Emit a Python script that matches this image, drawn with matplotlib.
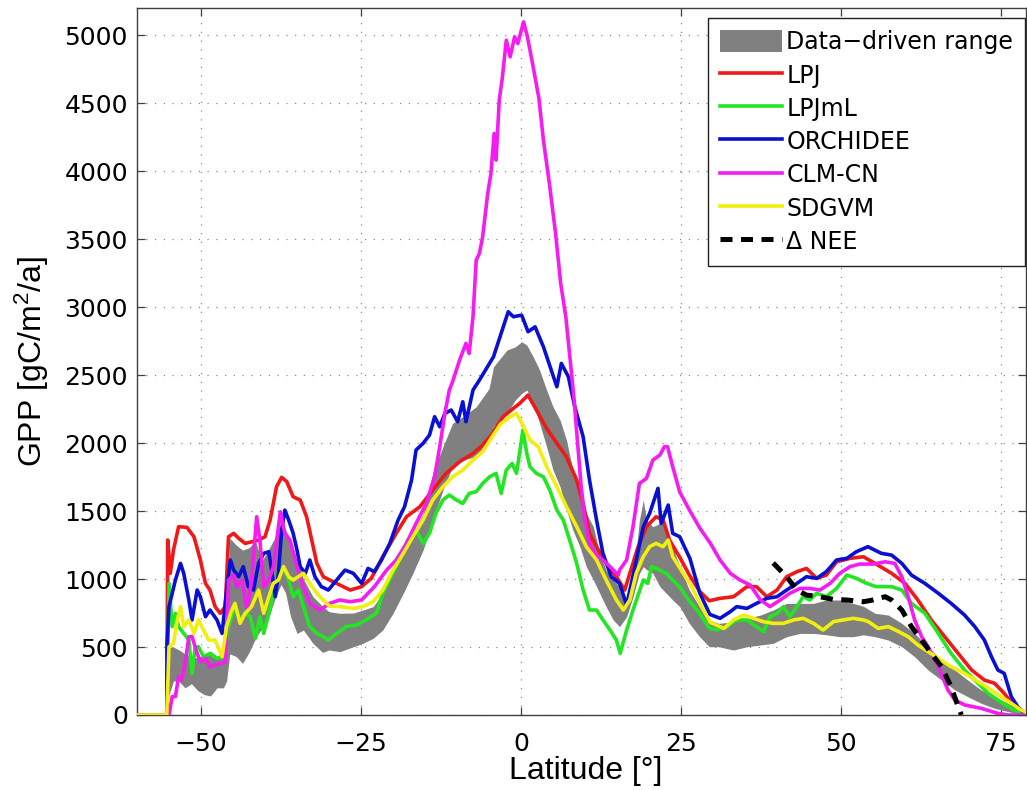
import matplotlib
matplotlib.use("Agg")
import matplotlib.pyplot as plt
from matplotlib.patches import Patch
from matplotlib.lines import Line2D
import numpy as np

plt.rcParams['font.family'] = ['Liberation Sans', 'DejaVu Sans']
plt.rcParams['mathtext.fontset'] = 'custom'
plt.rcParams['mathtext.rm'] = 'Liberation Sans'
plt.rcParams['mathtext.it'] = 'Liberation Sans:italic'

# ---------------- data (latitude, GPP) ----------------
lpj = [(-60, 0), (-55.35, 0), (-55.2, 1287), (-54.8, 1042), (-54.3, 1213), (-53.5, 1385), (-52.2, 1380),
       (-51.1, 1311), (-50.1, 1140), (-49.3, 968), (-48.6, 919), (-47.8, 797), (-47.0, 748), (-46.2, 797),
       (-45.7, 1311), (-44.9, 1336), (-44.1, 1299), (-43.1, 1262), (-42.1, 1274), (-41.0, 1287), (-40.0, 1311),
       (-39.2, 1434), (-38.2, 1679), (-37.4, 1748), (-36.6, 1716), (-35.6, 1605), (-34.5, 1581), (-33.5, 1458),
       (-32.7, 1287), (-31.9, 1115), (-30.9, 1017), (-29.9, 993), (-28.3, 956), (-26.7, 919), (-24.9, 944),
       (-23.4, 1005), (-21.6, 1164), (-19.5, 1336), (-17.9, 1458), (-15.8, 1532), (-13.8, 1654), (-11.7, 1777),
       (-9.6, 1863), (-7.5, 1924), (-6.0, 1985), (-4.6, 2060), (-2.8, 2194), (-1.2, 2255), (-0.2, 2292),
       (1.1, 2353), (2.4, 2243), (4.0, 2108), (5.6, 1998), (7.1, 1900), (8.7, 1728), (9.7, 1556), (10.7, 1336),
       (11.8, 1238), (13.3, 1115), (14.9, 1017), (16.2, 919), (17.0, 1042), (18.3, 1238), (19.6, 1385),
       (21.1, 1458), (22.2, 1434), (23.2, 1287), (24.8, 1160), (26.3, 1030), (27.9, 910), (29.4, 840),
       (31.1, 858), (33.2, 870), (35.3, 944), (36.8, 944), (38.4, 870), (40.0, 919), (41.5, 1017), (43.1, 1054),
       (44.6, 1078), (46.2, 1005), (47.7, 1029), (49.3, 1127), (51.4, 1152), (53.5, 1164), (55.3, 1115),
       (57.9, 1042), (60.0, 968), (62.0, 846), (64.1, 699), (66.2, 576), (68.3, 453), (70.4, 331), (72.4, 257),
       (74.0, 233), (75.5, 159), (77.1, 61), (78.7, 12)]

lpjml = [(-60, 0), (-55.35, 0), (-55.0, 968), (-54.5, 650), (-54.0, 748), (-53.5, 650), (-52.7, 600), (-51.9, 551),
         (-51.4, 306), (-50.9, 502), (-50.4, 502), (-49.6, 429), (-48.6, 453), (-47.5, 417), (-46.5, 429),
         (-45.7, 650), (-44.7, 797), (-43.9, 699), (-43.1, 748), (-42.3, 723), (-41.5, 564), (-40.8, 723),
         (-40.2, 600), (-39.4, 748), (-38.7, 895), (-37.9, 1042), (-37.1, 1091), (-36.3, 993), (-35.6, 870),
         (-34.8, 919), (-34.0, 797), (-33.0, 650), (-31.9, 600), (-30.9, 576), (-30.1, 551), (-28.8, 600),
         (-27.3, 650), (-25.7, 662), (-24.2, 699), (-22.6, 748), (-21.6, 895), (-20.3, 1017), (-19.0, 1140),
         (-17.7, 1287), (-16.4, 1360), (-15.3, 1262), (-14.3, 1336), (-13.3, 1483), (-12.2, 1581), (-11.2, 1618),
         (-10.1, 1581), (-9.1, 1556), (-8.1, 1630), (-7.0, 1642), (-6.0, 1703), (-4.9, 1752), (-3.9, 1777),
         (-3.1, 1630), (-2.3, 1801), (-1.4, 1850), (-0.7, 1777), (0.3, 2096), (0.9, 1924), (1.4, 1826),
         (2.4, 1777), (3.5, 1752), (4.5, 1654), (5.6, 1507), (6.6, 1434), (7.6, 1287), (8.7, 1115), (9.7, 919),
         (10.7, 772), (11.8, 772), (12.8, 699), (13.9, 625), (14.9, 551), (15.5, 453), (16.5, 625), (17.5, 772),
         (19.1, 993), (19.8, 968), (20.4, 1091), (21.7, 1066), (22.7, 1042), (23.7, 993), (24.8, 940),
         (26.3, 840), (27.9, 748), (29.4, 640), (30.6, 625), (32.2, 650), (33.7, 699), (35.3, 699), (36.8, 650),
         (37.9, 613), (38.9, 723), (40.0, 748), (41.0, 797), (42.0, 723), (43.1, 797), (44.1, 870), (45.1, 846),
         (46.2, 895), (47.7, 870), (49.3, 931), (50.9, 1029), (52.4, 1005), (54.0, 968), (55.5, 944), (57.9, 944),
         (59.5, 919), (61.0, 821), (63.1, 748), (65.2, 600), (67.2, 453), (69.3, 331), (71.4, 233), (73.0, 159),
         (74.5, 110), (76.1, 61), (77.6, 25), (78.7, 12)]

orchidee = [(-60, 0), (-55.35, 0), (-55.3, 527), (-55.0, 797), (-54.0, 993), (-53.2, 1115), (-52.7, 1042),
            (-51.9, 846), (-51.4, 699), (-50.6, 919), (-50.1, 870), (-49.3, 723), (-48.6, 772), (-47.5, 699),
            (-46.7, 600), (-46.0, 919), (-45.4, 1140), (-44.9, 1066), (-44.1, 1017), (-43.4, 1091), (-42.6, 944),
            (-41.8, 919), (-41.0, 1115), (-40.2, 1189), (-39.4, 1201), (-38.9, 1042), (-38.4, 870), (-37.9, 1042),
            (-37.4, 1360), (-36.9, 1507), (-36.3, 1434), (-35.6, 1336), (-35.0, 1213), (-34.5, 1091), (-33.7, 1042),
            (-33.0, 1140), (-32.2, 1017), (-31.2, 944), (-30.1, 919), (-28.8, 993), (-27.5, 1066), (-26.2, 1042),
            (-24.9, 968), (-23.9, 1078), (-22.9, 1054), (-21.8, 1140), (-20.5, 1262), (-19.2, 1434), (-18.2, 1532),
            (-17.1, 1728), (-16.4, 1949), (-15.3, 1998), (-14.3, 2059), (-13.5, 2194), (-12.7, 2120), (-11.9, 2218),
            (-10.9, 2243), (-9.9, 2157), (-9.1, 2304), (-8.6, 2157), (-7.5, 2390), (-6.5, 2463), (-4.3, 2635),
            (-2.0, 2966), (-1.2, 2929), (0.1, 2941), (1.1, 2819), (2.2, 2855), (3.5, 2708), (5.6, 2414),
            (6.3, 2586), (7.4, 2488), (8.4, 2267), (9.7, 2047), (10.7, 1728), (11.8, 1434), (12.8, 1189),
            (14.1, 1017), (15.4, 968), (16.5, 809), (17.8, 1091), (19.1, 1385), (20.1, 1483), (21.4, 1667),
            (21.9, 1409), (23.0, 1544), (23.7, 1336), (24.8, 1311), (26.4, 1150), (27.9, 900), (29.5, 740),
            (31.1, 711), (32.7, 760), (33.7, 797), (35.3, 784), (36.8, 821), (38.4, 858), (40.0, 870), (41.5, 919),
            (43.1, 968), (44.6, 1017), (46.2, 1005), (47.7, 1054), (49.3, 1140), (50.9, 1152), (52.4, 1201),
            (54.2, 1238), (56.3, 1189), (57.9, 1176), (59.5, 1115), (61.0, 1029), (63.1, 968), (65.2, 895),
            (67.2, 821), (69.3, 735), (70.9, 650), (72.4, 551), (73.5, 429), (74.5, 331), (75.5, 306), (76.6, 135),
            (77.6, 61), (78.7, 12)]

clmcn = [(-60, 0), (-55.0, 0), (-54.5, 135), (-54.0, 135), (-53.5, 282), (-53.0, 257), (-52.4, 404), (-51.9, 576),
         (-51.4, 576), (-50.6, 453), (-50.1, 392), (-49.3, 417), (-48.6, 355), (-47.8, 368), (-46.7, 380),
         (-46.2, 392), (-45.7, 993), (-44.9, 1029), (-44.4, 944), (-43.6, 993), (-42.8, 772), (-42.1, 993),
         (-41.3, 1458), (-40.8, 1287), (-40.2, 944), (-39.4, 993), (-38.7, 1091), (-37.6, 1495), (-36.9, 1336),
         (-36.1, 1287), (-35.0, 1091), (-34.0, 944), (-33.0, 821), (-31.4, 772), (-29.9, 821), (-28.3, 846),
         (-26.7, 833), (-24.9, 846), (-22.9, 944), (-21.0, 1066), (-19.5, 1140), (-17.9, 1262), (-16.4, 1409),
         (-14.8, 1556), (-13.5, 1752), (-12.7, 1973), (-11.9, 2218), (-11.2, 2390), (-10.7, 2450), (-9.6, 2610),
         (-8.6, 2733), (-8.1, 2659), (-7.5, 2929), (-7.0, 3346), (-6.5, 3395), (-6.0, 3517), (-5.2, 3836),
         (-4.7, 3983), (-4.2, 4277), (-3.9, 4081), (-3.4, 4522), (-2.9, 4694), (-2.3, 4963), (-1.7, 4841),
         (-1.0, 4988), (-0.5, 4939), (0.4, 5098), (1.0, 4988), (1.8, 4792), (2.8, 4535), (3.5, 4228),
         (4.4, 3920), (5.4, 3542), (6.2, 3174), (7.0, 2929), (7.6, 2650), (8.3, 2316), (8.9, 1973), (9.4, 1679),
         (10.0, 1434), (10.7, 1262), (11.5, 1189), (12.8, 1140), (13.9, 1091), (15.2, 1029), (15.4, 1066),
         (16.5, 1140), (17.5, 1385), (18.5, 1703), (19.6, 1740), (20.6, 1875), (21.7, 1912), (22.4, 1973),
         (22.9, 1973), (23.7, 1826), (24.8, 1640), (26.4, 1500), (28.0, 1370), (29.6, 1262), (31.1, 1140),
         (32.7, 1042), (34.2, 993), (35.8, 956), (37.4, 846), (38.9, 797), (40.5, 846), (42.0, 895), (43.6, 931),
         (45.1, 931), (46.7, 919), (48.3, 968), (49.8, 1042), (51.4, 1091), (52.9, 1110), (55.0, 1110),
         (56.9, 1127), (58.4, 1115), (59.5, 1017), (60.5, 870), (61.5, 699), (62.6, 576), (63.6, 502),
         (65.2, 355), (66.7, 184), (67.8, 110), (69.3, 74), (71.9, 49), (74.5, 12), (76.1, 0), (79.0, 0)]

sdgvm = [(-60, 0), (-55.35, 0), (-55.0, 502), (-54.3, 527), (-53.7, 699), (-53.2, 797), (-52.7, 650), (-51.9, 699),
         (-51.1, 600), (-50.4, 699), (-49.6, 625), (-48.8, 551), (-47.8, 551), (-46.7, 429), (-46.0, 650),
         (-45.4, 748), (-44.7, 821), (-43.9, 674), (-43.1, 748), (-42.1, 797), (-41.0, 919), (-40.2, 748),
         (-39.4, 870), (-38.7, 968), (-37.9, 993), (-37.1, 1091), (-36.3, 1017), (-35.6, 993), (-34.8, 1017),
         (-34.0, 1042), (-33.0, 968), (-31.9, 895), (-30.9, 846), (-29.9, 800), (-28.3, 797), (-26.2, 784),
         (-24.7, 797), (-23.1, 833), (-21.6, 919), (-20.0, 1066), (-18.4, 1189), (-16.9, 1311), (-15.3, 1434),
         (-13.8, 1581), (-12.2, 1679), (-10.7, 1752), (-9.1, 1801), (-7.5, 1875), (-6.0, 1936), (-4.6, 2040),
         (-3.2, 2140), (-1.7, 2194), (-0.7, 2218), (0.4, 2120), (1.4, 2022), (2.7, 1973), (4.0, 1826),
         (5.6, 1679), (7.1, 1532), (8.7, 1385), (10.2, 1238), (11.8, 1140), (13.3, 993), (14.9, 846), (16.0, 772),
         (17.0, 846), (18.0, 1042), (19.1, 1164), (20.1, 1238), (21.1, 1262), (22.2, 1238), (23.0, 1287),
         (23.7, 1164), (25.1, 1060), (26.6, 950), (28.2, 797), (29.6, 680), (31.7, 637), (33.2, 699), (34.8, 735),
         (36.3, 711), (37.9, 686), (39.4, 674), (41.0, 674), (42.6, 699), (44.1, 711), (45.7, 674), (47.2, 625),
         (48.8, 686), (50.3, 699), (51.9, 711), (53.5, 699), (54.3, 686), (55.8, 637), (57.4, 650), (59.0, 613),
         (60.5, 576), (62.0, 515), (63.6, 466), (65.2, 417), (67.2, 355), (69.3, 306), (71.4, 245), (73.5, 184),
         (75.0, 135), (76.6, 86), (78.1, 37), (79.0, 20)]

delta_nee = [(39.4, 1118), (41.5, 1017), (43.1, 919), (44.6, 882), (46.7, 870), (48.8, 850), (50.9, 846),
             (53.5, 833), (55.0, 846), (56.9, 870), (57.9, 846), (59.5, 772), (61.0, 650), (62.6, 551),
             (64.1, 453), (65.7, 355), (67.2, 208), (68.3, 61), (68.8, 0)]

# data-driven range: (latitude, lower, upper)
data_range = [(-55.3, 0, 0), (-55.0, 150, 500), (-54.3, 250, 500), (-53.5, 250, 480), (-52.5, 200, 450),
              (-51.5, 230, 430), (-50.5, 180, 420), (-49.5, 150, 450), (-48.5, 140, 470), (-47.5, 200, 430),
              (-46.5, 200, 460), (-46.0, 250, 700), (-45.5, 450, 1300), (-44.5, 430, 1250), (-43.5, 380, 1213),
              (-42.5, 460, 1230), (-41.5, 560, 1280), (-40.5, 640, 1130), (-39.5, 700, 1213), (-38.5, 850, 1300),
              (-37.5, 960, 1409), (-36.8, 900, 1360), (-36.0, 723, 1287), (-35.0, 600, 1140), (-34.0, 625, 1000),
              (-32.5, 527, 870), (-31.0, 460, 800), (-30.0, 478, 760), (-28.3, 466, 748), (-26.2, 502, 750),
              (-24.7, 527, 772), (-23.1, 564, 797), (-21.6, 625, 895), (-20.0, 748, 1042), (-18.4, 895, 1189),
              (-16.9, 1042, 1336), (-15.3, 1213, 1483), (-13.8, 1434, 1777), (-12.2, 1654, 1973),
              (-10.7, 1826, 2145), (-9.1, 1875, 2194), (-7.0, 1900, 2267), (-5.0, 2000, 2400), (-4.3, 2120, 2561),
              (-2.2, 2218, 2684), (-0.9, 2316, 2708), (0.1, 2365, 2745), (0.9, 2390, 2721), (1.9, 2292, 2635),
              (2.9, 2145, 2537), (4.0, 1973, 2390), (5.0, 1801, 2267), (6.1, 1679, 2169), (7.1, 1507, 2022),
              (8.1, 1360, 1801), (9.2, 1238, 1679), (10.2, 1091, 1483), (11.3, 993, 1385), (12.3, 895, 1189),
              (13.3, 797, 1066), (14.4, 699, 993), (15.4, 650, 944), (16.5, 723, 846), (17.5, 870, 993),
              (18.5, 1042, 1434), (19.1, 1091, 1581), (19.6, 1070, 1434), (20.6, 1042, 1385), (21.7, 944, 1409),
              (22.7, 895, 1385), (23.7, 846, 1238), (24.8, 797, 1091), (26.3, 674, 919), (27.9, 576, 797),
              (29.4, 502, 699), (30.9, 502, 674), (33.2, 478, 686), (35.3, 502, 711), (37.4, 515, 735),
              (39.4, 527, 772), (41.5, 576, 821), (43.6, 600, 821), (45.7, 600, 821), (47.7, 590, 846),
              (49.8, 576, 846), (51.9, 576, 821), (53.5, 590, 800), (55.3, 576, 748), (57.4, 551, 735),
              (59.5, 502, 674), (61.5, 429, 600), (63.6, 331, 502), (65.7, 257, 404), (67.8, 184, 331),
              (69.8, 135, 257), (71.9, 86, 184), (74.0, 49, 135), (76.1, 25, 86), (78.7, 0, 10)]

series_names = ['LPJ', 'LPJmL', 'ORCHIDEE', 'CLM-CN', 'SDGVM']
series_data = [lpj, lpjml, orchidee, clmcn, sdgvm]
series_colors = ['#f01818', '#22e622', '#0a10d2', '#f41cf0', '#f2ee10']

x_ticks = [-50, -25, 0, 25, 50, 75]
x_tick_labels = ['\u221250', '\u221225', '0', '25', '50', '75']
y_ticks = list(range(0, 5001, 500))

# ---------------- figure ----------------
W, H = 1027, 790
fig = plt.figure(figsize=(W / 100, H / 100), dpi=100)
ax = fig.add_axes([137 / W, 75 / H, (1026 - 137) / W, (715 - 8) / H])

rng_arr = np.array(data_range)
ax.fill_between(rng_arr[:, 0], rng_arr[:, 1], rng_arr[:, 2], color='#808080', linewidth=0, zorder=2)

LW = 2.6
NEE_LS = (0, (2.4, 1.7))
for name, d, c in zip(series_names, series_data, series_colors):
    a = np.array(d)
    ax.plot(a[:, 0], a[:, 1], color=c, lw=LW, zorder=3, solid_joinstyle='round')

nee = np.array(delta_nee)
ax.plot(nee[:, 0], nee[:, 1], color='black', lw=3.6, ls=NEE_LS, zorder=4)

ax.set_xlim(-60, 78.9)
ax.set_ylim(0, 5200)
ax.set_xticks(x_ticks)
ax.set_yticks(y_ticks)
ax.set_xticklabels(x_tick_labels)
ax.tick_params(direction='in', length=6, width=0.9, top=True, right=True, color='#404040')
ax.tick_params(axis='x', pad=12)
ax.tick_params(axis='y', pad=6.5)
for lab in ax.get_xticklabels() + ax.get_yticklabels():
    lab.set_fontfamily('DejaVu Sans')
    lab.set_fontsize(18)
for s in ax.spines.values():
    s.set_color('#404040')
    s.set_linewidth(1.0)
ax.grid(True, color='#8a8a8a', linestyle=(0, (1, 6)), linewidth=0.9)
ax.set_axisbelow(True)

ax.set_xlabel('Latitude [\u00b0]', fontsize=23)
ax.set_ylabel('GPP [gC/m$^2$/a]', fontsize=23)
ax.xaxis.set_label_coords(0.505, -0.058)
ax.yaxis.set_label_coords(-0.097, 0.5)

handles = [Patch(facecolor='#808080', edgecolor='none')]
handles += [Line2D([], [], color=c, lw=LW) for c in series_colors]
handles += [Line2D([], [], color='black', lw=3.6, ls=NEE_LS)]
labels = ['Data\u2212driven range'] + series_names + ['\u0394 NEE']
leg = fig.legend(handles, labels, loc='upper right', bbox_to_anchor=(1025 / W, 1 - 18 / H),
                 bbox_transform=fig.transFigure, prop={'family': 'DejaVu Sans', 'size': 17},
                 frameon=True, fancybox=False, edgecolor='#202020', framealpha=1,
                 handlelength=2.6, handleheight=1.1, handletextpad=0.2, labelspacing=0.38,
                 borderpad=0.5, borderaxespad=0.0)
leg.get_frame().set_linewidth(1.0)

fig.savefig('out.png', dpi=100)
